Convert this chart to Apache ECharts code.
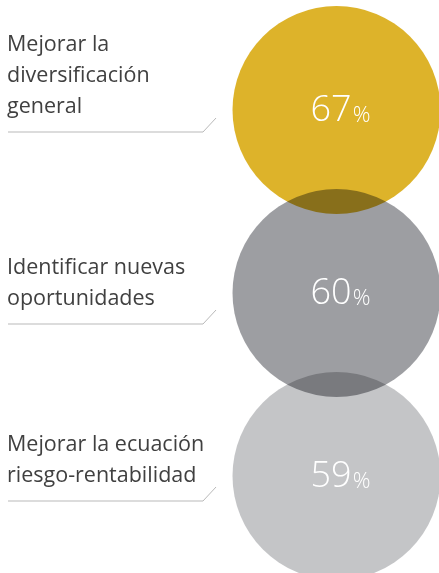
<!DOCTYPE html>
<html>
<head>
<meta charset="utf-8">
<script src="https://cdn.jsdelivr.net/npm/echarts@6/dist/echarts.min.js"></script>
<style>
html,body{margin:0;padding:0;background:#fff;}
#chart{width:439px;height:573px;}
</style>
</head>
<body>
<div id="chart"></div>
<script>
// motivos y porcentajes
const categories = ['Mejorar la\ndiversificación\ngeneral', 'Identificar nuevas\noportunidades', 'Mejorar la ecuación\nriesgo-rentabilidad']
const values = [67, 60, 59]
const colors = ['#ddb32a', '#9d9ea2', '#c4c5c7']

// ajuste de la linea bajo cada texto (px desde el centro del circulo)
const lineShift = [22, 31, 25]

let myChart = echarts.init(document.getElementById('chart'))

let circleData = values.map((v, i) => ({
    value: [0.5, i, v],
    itemStyle: { color: colors[i] }
}))

let option = {
    backgroundColor: '#ffffff',
    animation: false,
    grid: { left: 235, right: 1, top: 18.5, bottom: 5.5 },
    xAxis: { type: 'value', min: 0, max: 1, show: false },
    yAxis: {
        type: 'category',
        data: categories,
        inverse: true,
        show: false
    },
    series: [
        {
            type: 'scatter',
            symbol: 'circle',
            symbolSize: 208,
            blendMode: 'multiply',
            itemStyle: { opacity: 1 },
            data: circleData
        },
        {
            type: 'custom',
            z: 5,
            data: values.map((v, i) => [0.5, i, v]),
            renderItem: function (params, api) {
                let i = params.dataIndex
                let c = api.coord([0.5, i])
                let ly = c[1] + lineShift[i]
                return {
                    type: 'group',
                    children: [
                        {
                            type: 'text',
                            style: {
                                x: c[0] + 4,
                                y: c[1] + 1,
                                text: '{n|' + api.value(2) + '}{p|%}',
                                align: 'center',
                                verticalAlign: 'middle',
                                rich: {
                                    n: { fontSize: 36, fontFamily: 'Open Sans', fontWeight: 300, fill: '#ffffff', color: '#ffffff' },
                                    p: { fontSize: 22, fontFamily: 'Open Sans', fontWeight: 300, fill: '#ffffff', color: '#ffffff', padding: [9, 0, 0, 1] }
                                }
                            }
                        },
                        {
                            type: 'text',
                            style: {
                                x: 7,
                                y: ly - 10,
                                text: categories[i],
                                align: 'left',
                                verticalAlign: 'bottom',
                                fontSize: 21.5,
                                lineHeight: 31,
                                fontFamily: 'Open Sans',
                                fill: '#404040'
                            }
                        },
                        {
                            type: 'polyline',
                            shape: { points: [[8, ly], [203, ly], [216, ly - 14]] },
                            style: { stroke: '#b9b9b9', lineWidth: 1, fill: null }
                        }
                    ]
                }
            }
        }
    ]
}
myChart.setOption(option)
</script>
</body>
</html>
